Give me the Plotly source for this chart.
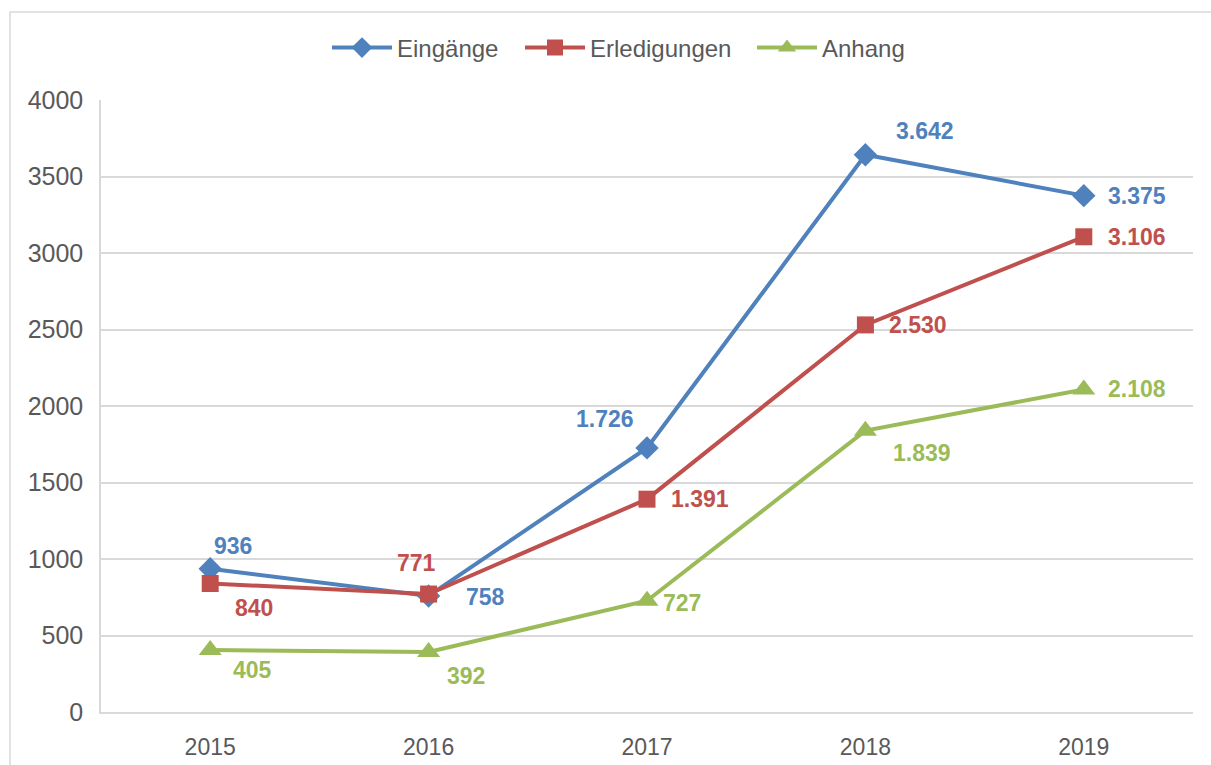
import plotly.graph_objects as go

# ---- data ----
years = ["2015", "2016", "2017", "2018", "2019"]
eingaenge = [936, 758, 1726, 3642, 3375]
erledigungen = [840, 771, 1391, 2530, 3106]
anhang = [405, 392, 727, 1839, 2108]
y_ticks = [0, 500, 1000, 1500, 2000, 2500, 3000, 3500, 4000]

series_names = ["Eingänge", "Erledigungen", "Anhang"]
series_values = [eingaenge, erledigungen, anhang]

# styles
colors = ["#4F81BD", "#C0504D", "#9BBB59"]
symbols = ["diamond", "square", "triangle-up"]
msizes = [18, 17, 20]
legend_ids = ["legend", "legend2", "legend3"]
legend_px = [335, 528, 760]  # left pixel of each legend entry

# label offsets (screen px: dx right, dy down) per series per point
label_offsets = [
    [(23, -23), (57, 1), (-42, -29), (60, -24), (53, 0)],
    [(44, 25), (-12, -31), (53, 0), (53, 0), (53, 0)],
    [(42, 20), (37, 24), (35, 2), (57, 22), (53, 0)],
]


def fmt(v):
    return f"{v:,}".replace(",", ".")


L, R, T, B = 101, 18, 100, 53
W, H = 1211, 765
pw, ph = W - L - R, H - T - B

fig = go.Figure()
annotations = []
for name, vals, color, sym, msize, offs, lid in zip(series_names, series_values, colors,
                                                    symbols, msizes, label_offsets,
                                                    legend_ids):
    fig.add_trace(go.Scatter(
        x=years, y=vals, name=name, mode="lines+markers",
        line=dict(color=color, width=4),
        marker=dict(symbol=sym, size=msize, color=color),
        legend=lid,
    ))
    for i, (yv, (dx, dy)) in enumerate(zip(vals, offs)):
        annotations.append(dict(
            x=i, y=yv, xref="x", yref="y", text=fmt(yv), showarrow=False,
            xshift=dx, yshift=-dy,
            font=dict(family="Liberation Sans, Arial, sans-serif", size=23,
                      color=color, weight="bold"),
        ))

legend_style = dict(
    orientation="h", yanchor="middle", y=(712 - 48) / ph, xanchor="left",
    font=dict(size=24, color="#595959"), itemwidth=60,
    bgcolor="rgba(0,0,0,0)", borderwidth=0,
)
legends = {}
for lid, px in zip(legend_ids, legend_px):
    legends[lid] = dict(legend_style, x=(px - 8 - L) / pw)

fig.update_layout(
    width=W, height=H,
    margin=dict(l=L, r=R, t=T, b=B, pad=0),
    paper_bgcolor="white", plot_bgcolor="white",
    font=dict(family="Liberation Sans, Arial, sans-serif", color="#595959", size=22),
    showlegend=True,
    annotations=annotations,
    shapes=[dict(
        type="rect", xref="paper", yref="paper",
        x0=(10 - L) / pw, x1=(1230 - L) / pw,
        y0=(712 - 780) / ph, y1=(712 - 12) / ph,
        line=dict(color="#d9d9d9", width=1.5), fillcolor="rgba(0,0,0,0)",
        layer="below",
    )],
    xaxis=dict(
        type="category", range=[-0.5, 4.5], automargin=False,
        showgrid=False, showline=True, linecolor="#d9d9d9", linewidth=1.5,
        ticks="", tickfont=dict(size=23, color="#595959"),
        ticklabelstandoff=14, zeroline=False,
    ),
    yaxis=dict(
        range=[0, 4000], tickvals=y_ticks, automargin=False,
        showgrid=True, gridcolor="#d9d9d9", gridwidth=1.5,
        showline=True, linecolor="#d9d9d9", linewidth=1.5,
        ticks="", tickfont=dict(size=25, color="#595959"),
        ticklabelstandoff=11, zeroline=False,
    ),
    **legends,
)

fig.write_html(
    "out.html",
    config={"displayModeBar": False},
    post_script="document.body.style.margin='0';document.body.style.overflow='hidden';",
)
